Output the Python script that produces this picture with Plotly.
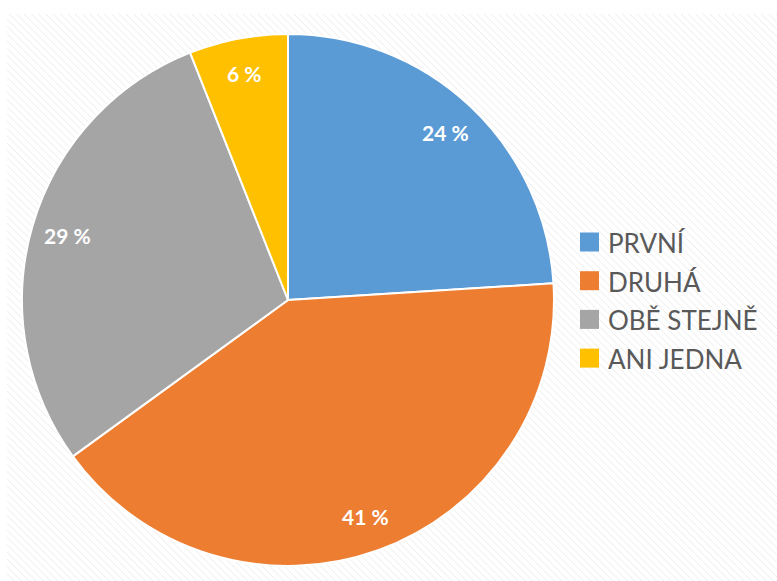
import math
import plotly.graph_objects as go

labels = ["PRVNÍ", "DRUHÁ", "OBĚ STEJNĚ", "ANI JEDNA"]
values = [24, 41, 29, 6]
colors = ["#5B9BD5", "#ED7D31", "#A5A5A5", "#FFC000"]

W, H = 777, 581
CX, CY, R = 288, 300, 266

def px(x):
    return x / W

def py(y):
    return 1 - y / H

fig = go.Figure(go.Pie(
    labels=labels, values=values, sort=False, direction="clockwise", rotation=0,
    marker=dict(colors=colors, line=dict(color="white", width=2)),
    textinfo="none",
    domain=dict(x=[px(CX - R), px(CX + R)], y=[py(CY + R), py(CY - R)]),
    hoverinfo="label+percent",
    showlegend=False,
))

# data labels placed near the outer edge along each slice's mid-angle
total = sum(values)
acc = 0
for v in values:
    mid = (acc + v / 2) / total * 2 * math.pi
    acc += v
    r = 0.865 * R
    x = CX + r * math.sin(mid)
    y = CY - r * math.cos(mid)
    fig.add_annotation(x=px(x), y=py(y), xref="paper", yref="paper",
                       text=f"{v} %", showarrow=False, xanchor="center", yanchor="middle",
                       font=dict(family="Lato", size=21, color="white", weight="bold"))

# legend
for i, (lab, col) in enumerate(zip(labels, colors)):
    yc = 242 + 38.7 * i
    fig.add_shape(type="rect", xref="paper", yref="paper",
                  x0=px(580), x1=px(599), y0=py(yc - 9.5), y1=py(yc + 9.5),
                  fillcolor=col, line=dict(width=0))
    fig.add_annotation(x=px(606), y=py(yc + 1), xref="paper", yref="paper",
                       text=lab, showarrow=False, xanchor="left", yanchor="middle",
                       font=dict(family="Lato", size=26, color="#595959"))

# faint diagonal hatching background
x0, y0, x1, y1 = 7, 14, W, H
segs = []
step = 7.3
c = x0 - (y1 - y0)
while c < x1:
    ys, ye = y0, y1
    xs, xe = c, c + (y1 - y0)
    if xs < x0:
        ys = y0 + (x0 - xs); xs = x0
    if xe > x1:
        ye = y1 - (xe - x1); xe = x1
    if ye > ys:
        segs.append(f"M{xs/W:.5f},{1-ys/H:.5f} L{xe/W:.5f},{1-ye/H:.5f}")
    c += step

fig.add_shape(type="path", path=" ".join(segs), xref="paper", yref="paper",
              line=dict(color="#ececec", width=1), layer="below")

fig.update_layout(
    width=W, height=H, margin=dict(l=0, r=0, t=0, b=0),
    paper_bgcolor="white", plot_bgcolor="white",
    showlegend=False,
)

fig.write_html("out.html")
